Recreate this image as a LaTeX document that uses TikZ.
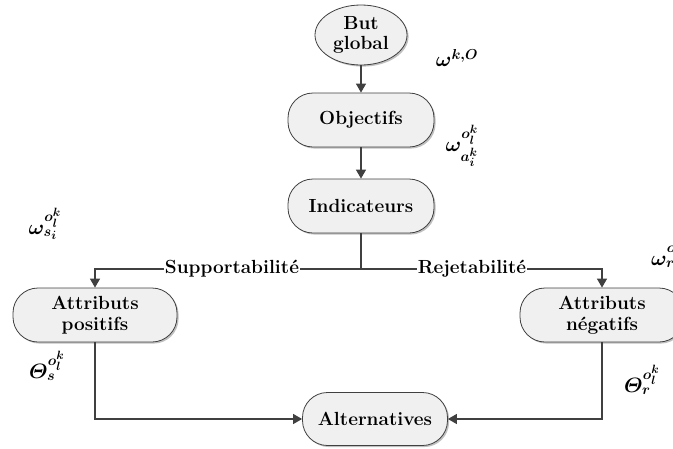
\documentclass[tikz,border=0pt]{standalone}
\usepackage{amsmath}
\DeclareMathSizes{21}{21}{15}{12}
\usetikzlibrary{arrows.meta,shapes.geometric,shadows}
\begin{document}
\begin{tikzpicture}[x=1pt,y=-1pt,
  nodefont/.style={font=\fontsize{19}{22.7}\selectfont\bfseries},
  shad/.style={drop shadow={shadow xshift=1.6pt,shadow yshift=-1.6pt,fill=black!45,opacity=0.55}},
  box/.style={nodefont,shad,draw=black!75,line width=0.8pt,fill=black!6,
    rounded corners=25pt,minimum width=146pt,minimum height=54pt,inner sep=0pt,align=center},
  oval/.style={nodefont,shad,draw=black!75,line width=0.8pt,fill=black!6,
    ellipse,minimum width=92pt,minimum height=60pt,inner sep=0pt,align=center},
  line/.style={draw=black!75,line width=1.3pt},
  arr/.style={line,-{Triangle[width=10pt,length=9pt]}},
  lbl/.style={nodefont,fill=white,inner sep=1pt},
  ml/.style={font=\fontsize{21}{24}\selectfont\boldmath,inner sep=0pt}
]
\useasboundingbox (0,0) rectangle (673,448);
\clip (0,0) rectangle (673,448);

\node[oval] (but) at (361,35) {But\\[-3pt]global};
\node[box] (obj) at (361,120) {Objectifs};
\node[box] (ind) at (361,206) {Indicateurs};
\coordinate (jn) at (361,269);
\node[box,minimum width=164pt] (pos) at (95,315) {Attributs\\[-2pt]positifs};
\node[box,minimum width=164pt] (neg) at (602,315) {Attributs\\[-2pt]n\'egatifs};
\node[box,minimum width=145pt,minimum height=53pt] (alt) at (375,419) {Alternatives};

\draw[arr] (but) -- (obj);
\draw[arr] (obj) -- (ind);
\draw[line] (ind) -- (jn);
\draw[arr] (jn) -| (pos.north);
\draw[arr] (jn) -| (neg.north);
\draw[arr] (pos.south) |- (alt.west);
\draw[arr] (neg.south) |- (alt.east);

\node[lbl] (sup) at (232,269) {Supportabilit\'e};
\node[lbl] (rej) at (472,269) {Rejetabilit\'e};

\node[ml] (w1) at (457,58) {$\omega^{k,O}$};
\node[ml] (w2) at (462,146) {$\omega^{o_l^k}_{a_i^k}$};
\node[ml] (w3) at (45,224) {$\omega^{o_l^k}_{s_i}$};
\node[ml] (t1) at (47,366) {$\varTheta^{o_l^k}_{s}$};
\node[ml] (t2) at (642,380) {$\varTheta^{o_l^k}_{r}$};
\node[ml,anchor=west] (w4) at (651,255) {$\omega^{o_l^k}_{r_i}$};
\end{tikzpicture}
\end{document}
